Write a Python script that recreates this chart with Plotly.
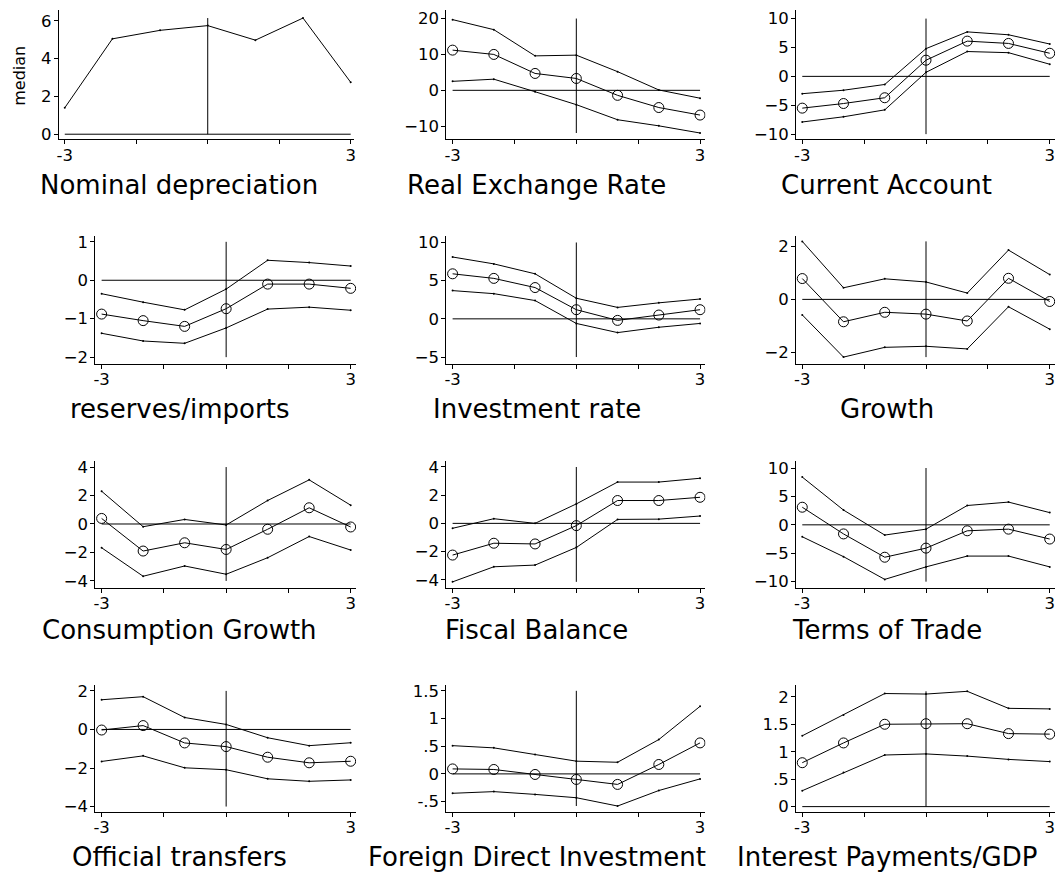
import plotly.graph_objects as go

W, H = 1060, 878
x = [-3, -2, -1, 0, 1, 2, 3]

titles = ["Nominal depreciation", "Real Exchange Rate", "Current Account",
          "reserves/imports", "Investment rate", "Growth",
          "Consumption Growth", "Fiscal Balance", "Terms of Trade",
          "Official transfers", "Foreign Direct Investment", "Interest Payments/GDP"]

# Nominal depreciation (median only)
nom_median = [1.4, 5.05, 5.5, 5.75, 4.98, 6.15, 2.75]

# Real exchange rate
rer_upper = [19.7, 16.9, 9.6, 9.8, 5.2, 0.1, -2.2]
rer_median = [11.2, 10.0, 4.7, 3.3, -1.4, -4.8, -6.9]
rer_lower = [2.5, 3.1, -0.4, -4.0, -8.2, -9.9, -11.9]

# Current account
ca_upper = [-3.0, -2.4, -1.4, 4.8, 7.7, 7.2, 5.6]
ca_median = [-5.5, -4.7, -3.7, 2.8, 6.1, 5.7, 4.0]
ca_lower = [-7.9, -7.0, -5.8, 0.7, 4.3, 4.1, 2.1]

# Reserves / imports
res_upper = [-0.35, -0.57, -0.77, -0.23, 0.52, 0.46, 0.37]
res_median = [-0.88, -1.05, -1.2, -0.74, -0.1, -0.1, -0.21]
res_lower = [-1.38, -1.58, -1.64, -1.24, -0.75, -0.7, -0.78]

# Investment rate
inv_upper = [8.1, 7.2, 5.9, 2.7, 1.5, 2.1, 2.6]
inv_median = [5.9, 5.3, 4.1, 1.2, -0.2, 0.5, 1.2]
inv_lower = [3.7, 3.3, 2.4, -0.6, -1.8, -1.1, -0.6]

# Growth
gr_upper = [2.2, 0.44, 0.78, 0.66, 0.24, 1.87, 0.94]
gr_median = [0.79, -0.85, -0.49, -0.56, -0.82, 0.8, -0.08]
gr_lower = [-0.59, -2.19, -1.82, -1.78, -1.88, -0.28, -1.13]

# Consumption growth
cg_upper = [2.3, -0.19, 0.32, -0.07, 1.65, 3.1, 1.32]
cg_median = [0.39, -1.9, -1.32, -1.79, -0.37, 1.14, -0.21]
cg_lower = [-1.67, -3.67, -2.95, -3.53, -2.37, -0.88, -1.83]

# Fiscal balance
fb_upper = [-0.35, 0.33, 0.0, 1.38, 2.93, 2.93, 3.2]
fb_median = [-2.25, -1.41, -1.46, -0.16, 1.62, 1.62, 1.85]
fb_lower = [-4.15, -3.08, -2.96, -1.71, 0.28, 0.3, 0.52]

# Terms of trade
tot_upper = [8.4, 2.6, -1.8, -0.76, 3.4, 4.0, 2.15]
tot_median = [3.1, -1.6, -5.7, -4.1, -1.05, -0.76, -2.5]
tot_lower = [-2.1, -5.6, -9.6, -7.4, -5.5, -5.5, -7.4]

# Official transfers
ot_upper = [1.54, 1.7, 0.62, 0.26, -0.43, -0.84, -0.69]
ot_median = [-0.03, 0.2, -0.7, -0.89, -1.44, -1.73, -1.65]
ot_lower = [-1.66, -1.37, -1.99, -2.09, -2.56, -2.69, -2.62]

# Foreign direct investment
fdi_upper = [0.51, 0.47, 0.35, 0.23, 0.21, 0.62, 1.22]
fdi_median = [0.09, 0.08, -0.01, -0.1, -0.19, 0.17, 0.56]
fdi_lower = [-0.35, -0.32, -0.37, -0.43, -0.58, -0.3, -0.09]

# Interest payments / GDP
ip_upper = [1.29, 1.67, 2.06, 2.05, 2.1, 1.79, 1.78]
ip_median = [0.8, 1.16, 1.5, 1.51, 1.51, 1.33, 1.32]
ip_lower = [0.29, 0.62, 0.94, 0.96, 0.92, 0.86, 0.82]

# y tick values / labels per panel
yticks = [
    [0, 2, 4, 6], [-10, 0, 10, 20], [-10, -5, 0, 5, 10],
    [-2, -1, 0, 1], [-5, 0, 5, 10], [-2, 0, 2],
    [-4, -2, 0, 2, 4], [-4, -2, 0, 2, 4], [-10, -5, 0, 5, 10],
    [-4, -2, 0, 2], [-0.5, 0, 0.5, 1, 1.5], [0, 0.5, 1, 1.5, 2],
]
ytext = [
    None, None, None, None, None, None, None, None, None, None,
    ["-.5", "0", ".5", "1", "1.5"], ["0", ".5", "1", "1.5", "2"],
]

series = [
    (None, nom_median, None),
    (rer_upper, rer_median, rer_lower),
    (ca_upper, ca_median, ca_lower),
    (res_upper, res_median, res_lower),
    (inv_upper, inv_median, inv_lower),
    (gr_upper, gr_median, gr_lower),
    (cg_upper, cg_median, cg_lower),
    (fb_upper, fb_median, fb_lower),
    (tot_upper, tot_median, tot_lower),
    (ot_upper, ot_median, ot_lower),
    (fdi_upper, fdi_median, fdi_lower),
    (ip_upper, ip_median, ip_lower),
]

# ---- layout geometry (pixels) ----
yranges = [
    (-0.24, 6.58), (-13.5, 22.4), (-10.8, 11.5),
    (-2.17, 1.155), (-5.87, 10.87), (-2.44, 2.41),
    (-4.47, 4.44), (-4.56, 4.44), (-11.05, 11.27),
    (-4.26, 2.32), (-0.68, 1.61), (-0.09, 2.22),
]
row_px = [(7, 137), (235, 364), (462, 590), (688, 816)]
# (px of x=-3, px of x=3)
col_px = {0: (100, 350), 1: (452.3, 700.7), 2: (803.3, 1051.7)}
first_px = (63, 350)
title_cx = [178, 537, 888]
title_cy = [184, 410, 633, 862]
XL, XR = -3.15, 3.13

FONT = "DejaVu Sans"
fig = go.Figure()
annotations = []

for i in range(12):
    r, c = divmod(i, 3)
    pm3, p3 = first_px if i == 0 else col_px[c]
    unit = (p3 - pm3) / 6.0
    xl, xr = (-3.125, 3.07) if i == 0 else (XL, XR)
    left = pm3 + (xl + 3) * unit
    right = p3 + (xr - 3) * unit
    top, bot = row_px[r]
    xa = "x" if i == 0 else f"x{i+1}"
    ya = "y" if i == 0 else f"y{i+1}"
    xkey = "xaxis" if i == 0 else f"xaxis{i+1}"
    ykey = "yaxis" if i == 0 else f"yaxis{i+1}"

    up, med, lo = series[i]
    vals = [v for s in series[i] if s is not None for v in s] + yticks[i]
    vmin, vmax = min(vals), max(vals)

    # reference lines
    fig.add_trace(go.Scatter(x=[-3, 3], y=[0, 0], mode="lines",
                             line=dict(color="black", width=1),
                             xaxis=xa, yaxis=ya, showlegend=False, hoverinfo="skip"))
    fig.add_trace(go.Scatter(x=[0, 0], y=[vmin, vmax], mode="lines",
                             line=dict(color="black", width=1),
                             xaxis=xa, yaxis=ya, showlegend=False, hoverinfo="skip"))
    for s in (up, lo):
        if s is not None:
            fig.add_trace(go.Scatter(x=x, y=s, mode="lines+markers",
                                     line=dict(color="black", width=1),
                                     marker=dict(size=2, color="black"),
                                     xaxis=xa, yaxis=ya, showlegend=False))
    if up is None:
        fig.add_trace(go.Scatter(x=x, y=med, mode="lines+markers",
                                 line=dict(color="black", width=1),
                                 marker=dict(size=2, color="black"),
                                 xaxis=xa, yaxis=ya, showlegend=False))
    else:
        fig.add_trace(go.Scatter(x=x, y=med, mode="lines+markers",
                                 line=dict(color="black", width=1),
                                 marker=dict(symbol="circle-open", size=10, color="black",
                                             line=dict(width=1, color="black")),
                                 xaxis=xa, yaxis=ya, showlegend=False))

    fig.layout[xkey] = dict(
        domain=[left / W, right / W], range=[xl, xr], anchor=ya,
        showgrid=False, zeroline=False, showline=True, linecolor="black", linewidth=1,
        ticks="outside", ticklen=4, tickcolor="black", tickwidth=1,
        tickvals=[-3, -1.5, 0, 1.5, 3], ticktext=["-3", "", "", "", "3"],
        tickfont=dict(family=FONT, size=16.5, color="black"), ticklabelstandoff=-3,
    )
    yd = dict(
        domain=[1 - bot / H, 1 - top / H], range=list(yranges[i]), anchor=xa,
        showgrid=False, zeroline=False, showline=True, linecolor="black", linewidth=1,
        ticks="outside", ticklen=4, tickcolor="black", tickwidth=1,
        tickvals=yticks[i], tickfont=dict(family=FONT, size=16.5, color="black"),
        ticklabelstandoff=-1,
    )
    if ytext[i] is not None:
        yd["ticktext"] = ytext[i]
    fig.layout[ykey] = yd

    annotations.append(dict(text=titles[i], x=title_cx[c] / W, y=1 - title_cy[r] / H,
                            xref="paper", yref="paper", xanchor="center", yanchor="middle",
                            showarrow=False, font=dict(family=FONT, size=26, color="black")))

annotations.append(dict(text="median", x=17.5 / W, y=1 - 73 / H, xref="paper", yref="paper",
                        xanchor="center", yanchor="middle", textangle=-90, showarrow=False,
                        font=dict(family=FONT, size=16, color="black")))

fig.update_layout(width=W, height=H, margin=dict(l=0, r=0, t=0, b=0),
                  paper_bgcolor="white", plot_bgcolor="white",
                  annotations=annotations, showlegend=False)

fig.write_html("out.html", config={"displayModeBar": False},
               post_script="document.body.style.margin='0px';document.body.style.overflow='hidden';")
